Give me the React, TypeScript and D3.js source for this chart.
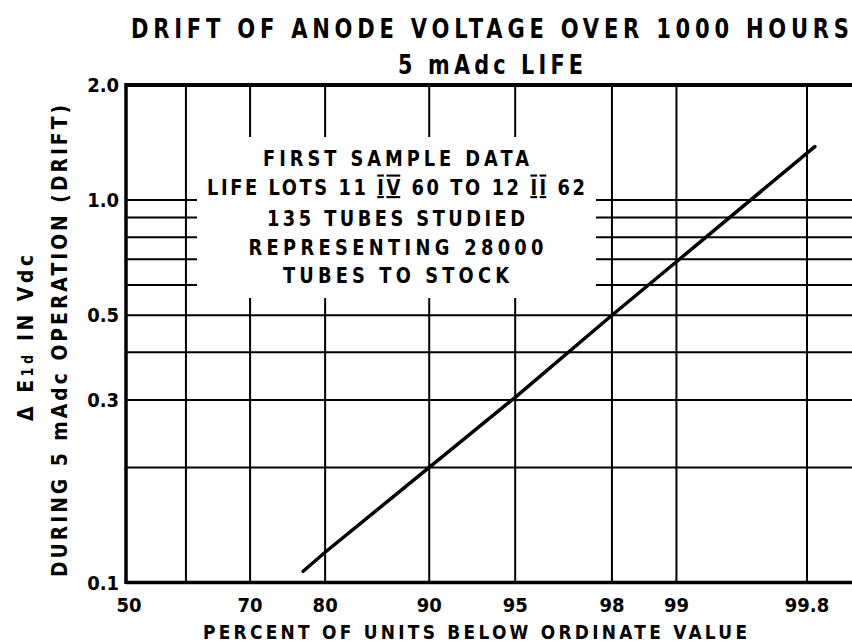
import React, { useEffect, useRef } from "react";
import * as d3 from "d3";

// percent of units below ordinate value (probability axis)
const xTicks = [50, 60, 70, 80, 90, 95, 98, 99, 99.8];
const xTickLabels = ["50", "", "70", "80", "90", "95", "98", "99", "99.8"];
// drift in Vdc (log axis)
const yGrid = [0.2, 0.3, 0.4, 0.5, 0.6, 0.7, 0.8, 0.9, 1.0];
const yTickValues = [2.0, 1.0, 0.5, 0.3, 0.1];
const yTickLabels = ["2.0", "1.0", "0.5", "0.3", "0.1"];
// the drift line
const driftPct = [77.3, 80, 90, 95, 98, 99, 99.82];
const driftVdc = [0.107, 0.12, 0.2, 0.305, 0.5, 0.69, 1.38];

const boxLines = [
  "FIRST SAMPLE DATA",
  "LIFE LOTS 11 IV 60 TO 12 II 62",
  "135 TUBES STUDIED",
  "REPRESENTING 28000",
  "TUBES TO STOCK",
];
const boxWidths = [266, 378, 258, 295, 226];

// inverse normal cdf (Acklam)
function probit(p: number) {
  const a = [-39.69683028665376, 220.9460984245205, -275.9285104469687, 138.357751867269, -30.66479806614716, 2.506628277459239];
  const b = [-54.47609879822406, 161.5858368580409, -155.6989798598866, 66.80131188771972, -13.28068155288572];
  const c = [-0.007784894002430293, -0.3223964580411365, -2.400758277161838, -2.549671348283223, 4.374664141464968, 2.938163982698783];
  const d = [0.007784695709041462, 0.3224671290700398, 2.445134137142996, 3.754408661907416];
  const plow = 0.02425;
  if (p < plow) {
    const q = Math.sqrt(-2 * Math.log(p));
    return (((((c[0] * q + c[1]) * q + c[2]) * q + c[3]) * q + c[4]) * q + c[5]) /
      ((((d[0] * q + d[1]) * q + d[2]) * q + d[3]) * q + 1);
  }
  if (p <= 1 - plow) {
    const q = p - 0.5;
    const r = q * q;
    return ((((((a[0] * r + a[1]) * r + a[2]) * r + a[3]) * r + a[4]) * r + a[5]) * q) /
      (((((b[0] * r + b[1]) * r + b[2]) * r + b[3]) * r + b[4]) * r + 1);
  }
  const q = Math.sqrt(-2 * Math.log(1 - p));
  return -(((((c[0] * q + c[1]) * q + c[2]) * q + c[3]) * q + c[4]) * q + c[5]) /
    ((((d[0] * q + d[1]) * q + d[2]) * q + d[3]) * q + 1);
}

const width = 852;
const height = 644;
const font = "'DejaVu Sans', sans-serif";

// lettering: bold, squeezed a little sideways, spread to a given width
function letter(parent: any, s: string, x: number, y: number, size: number, opts: any = {}) {
  const sx = opts.sx ?? 0.8;
  const rot = opts.rotate ?? 0;
  const t = parent
    .append("text")
    .attr("transform", `translate(${x},${y}) rotate(${rot}) scale(${sx},1)`)
    .attr("text-anchor", opts.anchor ?? "start")
    .style("font-family", font)
    .style("font-weight", "bold")
    .style("font-size", `${size}px`);
  if (opts.w) t.attr("textLength", opts.w / sx).attr("lengthAdjust", "spacing");
  if (s) t.text(s);
  return t;
}

export default function App() {
  const svgRef = useRef<SVGSVGElement>(null);

  useEffect(() => {
    const svg = d3.select(svgRef.current);
    svg.selectAll("*").remove();

    const left = 126;
    const top = 85;
    const bottom = 582.5;

    const zScale = d3.scaleLinear().domain([0, probit(0.998)]).range([left, 807]);
    const x = (p: number) => zScale(probit(p / 100));
    const y = d3.scaleLog().domain([0.1, 2]).range([bottom, top]);

    svg.append("rect").attr("width", width).attr("height", height).attr("fill", "#fff");

    const g = svg.append("g");

    // vertical grid
    g.selectAll(".vgrid")
      .data(xTicks.slice(1))
      .enter()
      .append("line")
      .attr("x1", (d) => x(d))
      .attr("x2", (d) => x(d))
      .attr("y1", top)
      .attr("y2", bottom)
      .attr("stroke", "#000")
      .attr("stroke-width", 2);

    // horizontal grid
    g.selectAll(".hgrid")
      .data(yGrid)
      .enter()
      .append("line")
      .attr("x1", left)
      .attr("x2", width + 10)
      .attr("y1", (d) => y(d))
      .attr("y2", (d) => y(d))
      .attr("stroke", "#000")
      .attr("stroke-width", 2);

    // the note box blanks out the grid behind it
    g.append("rect")
      .attr("x", 197)
      .attr("y", 137)
      .attr("width", 399)
      .attr("height", 161)
      .attr("fill", "#fff");

    // frame
    g.append("line").attr("x1", left).attr("x2", width + 10).attr("y1", top).attr("y2", top)
      .attr("stroke", "#000").attr("stroke-width", 4);
    g.append("line").attr("x1", left).attr("x2", width + 10).attr("y1", bottom).attr("y2", bottom)
      .attr("stroke", "#000").attr("stroke-width", 3.5);
    g.append("line").attr("x1", left).attr("x2", left).attr("y1", top - 2).attr("y2", bottom + 1.5)
      .attr("stroke", "#000").attr("stroke-width", 3.5);

    // drift line
    const line = d3
      .line<number>()
      .x((d, i) => x(driftPct[i]))
      .y((d) => y(d));
    g.append("path")
      .datum(driftVdc)
      .attr("d", line)
      .attr("fill", "none")
      .attr("stroke", "#000")
      .attr("stroke-width", 3.5)
      .attr("stroke-linecap", "round");

    // x tick labels
    xTicks.forEach((v, i) => {
      if (!xTickLabels[i]) return;
      letter(g, xTickLabels[i], x(v) + (v === 50 ? 3 : 0), 612, 20, { anchor: "middle", sx: 0.9 });
    });

    // y tick labels
    yTickValues.forEach((v, i) => {
      letter(g, yTickLabels[i], 119, y(v) + 7, 20, { anchor: "end", sx: 0.9 });
    });

    // axis titles
    letter(svg, "PERCENT OF UNITS BELOW ORDINATE VALUE", 203, 639, 20, { w: 544, sx: 0.85 });
    letter(svg, "DURING 5 mAdc OPERATION (DRIFT)", 67, 577, 22, { w: 472, sx: 0.85, rotate: -90 });
    const yt = letter(svg, "", 33, 421, 22, { w: 166, sx: 0.85, rotate: -90 });
    yt.append("tspan").text("\u0394 E");
    yt.append("tspan").style("font-size", "15px").text("1d");
    yt.append("tspan").text(" IN Vdc");

    // titles
    letter(svg, "DRIFT OF ANODE VOLTAGE OVER 1000 HOURS", 131, 38, 27, { w: 718, sx: 0.78 });
    letter(svg, "5 mAdc LIFE", 398, 74, 26, { w: 185, sx: 0.8 });

    // note text
    const baselines = [166, 195, 226, 255, 283];
    boxLines.forEach((t, i) => {
      const tx = letter(svg, i === 1 ? "" : t, 396 - boxWidths[i] / 2, baselines[i], 21, {
        w: boxWidths[i],
        sx: 0.85,
      });
      if (i === 1) {
        tx.append("tspan").text("LIFE LOTS 11 ");
        tx.append("tspan").style("text-decoration", "underline overline").text("IV");
        tx.append("tspan").text(" 60 TO 12 ");
        tx.append("tspan").style("text-decoration", "underline overline").text("II");
        tx.append("tspan").text(" 62");
      }
    });
  }, []);

  return (
    <svg
      ref={svgRef}
      width={width}
      height={height}
      style={{ position: "absolute", left: 0, top: 0 }}
    />
  );
}
